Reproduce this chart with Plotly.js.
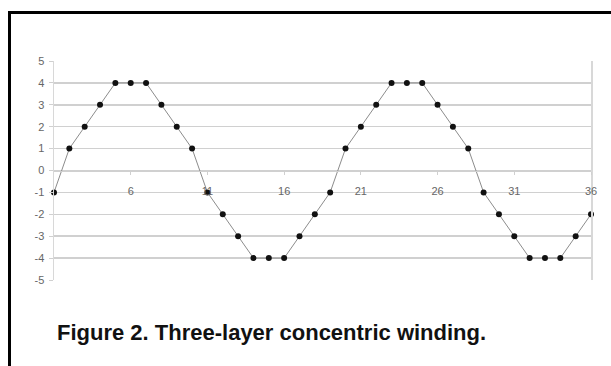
<!DOCTYPE html>
<html>
<head>
<meta charset="utf-8">
<script src="https://cdn.plot.ly/plotly-3.0.1.min.js"></script>
<style>
html,body{margin:0;padding:0;background:#fff;overflow:hidden;}
#wrap{position:relative;width:611px;height:366px;overflow:hidden;}
#chart{position:absolute;left:0;top:0;width:611px;height:366px;}
#frameTop{position:absolute;left:8px;top:11px;width:603px;height:3px;background:#000;pointer-events:none;}
#frameLeft{position:absolute;left:8px;top:11px;width:3px;height:355px;background:#000;pointer-events:none;}
</style>
</head>
<body>
<div id="wrap">
<div id="chart"></div>
<div id="frameTop"></div>
<div id="frameLeft"></div>
</div>
<script>
const positions = [1,2,3,4,5,6,7,8,9,10,11,12,13,14,15,16,17,18,19,20,21,22,23,24,25,26,27,28,29,30,31,32,33,34,35,36];
const values = [-1,1,2,3,4,4,4,3,2,1,-1,-2,-3,-4,-4,-4,-3,-2,-1,1,2,3,4,4,4,3,2,1,-1,-2,-3,-4,-4,-4,-3,-2];
const xTickVals = [6,11,16,21,26,31,36];
const yTickVals = [-5,-4,-3,-2,-1,0,1,2,3,4,5];
const caption = "Figure 2. Three-layer concentric winding.";

const trace = {
  x: positions, y: values, type: 'scatter', mode: 'lines+markers',
  line: {color: '#8c8c8c', width: 1},
  marker: {color: '#111', size: 6},
  cliponaxis: false, hoverinfo: 'skip'
};

const layout = {
  width: 611, height: 366,
  margin: {l: 54, r: 20, t: 61, b: 86},
  paper_bgcolor: '#fff', plot_bgcolor: '#fff',
  showlegend: false,
  font: {family: 'Liberation Sans, Arial, sans-serif', color: '#666', size: 11},
  xaxis: {
    range: [1, 36], anchor: 'free', position: 0.5,
    tickvals: xTickVals, ticktext: xTickVals.map(String),
    showgrid: false, zeroline: false,
    showline: true, linecolor: '#d0d0d0', linewidth: 1.5,
    ticks: 'outside', ticklen: 3, tickcolor: '#d0d0d0',
    ticklabelstandoff: 7,
    tickfont: {size: 11, color: '#666'}
  },
  yaxis: {
    range: [-5, 5],
    tickvals: yTickVals, ticktext: yTickVals.map(String),
    showgrid: true, gridcolor: '#d0d0d0', gridwidth: 1.5,
    zeroline: false,
    showline: true, mirror: true, linecolor: '#d8d8d8', linewidth: 1.5,
    ticks: 'outside', ticklen: 4, tickcolor: '#d0d0d0',
    ticklabelstandoff: 2,
    tickfont: {size: 11, color: '#666'}
  },
  annotations: [{
    text: '<b>' + caption + '</b>',
    xref: 'paper', yref: 'paper',
    x: (55 - 54) / 539, y: (280 - 332) / 219,
    xanchor: 'left', yanchor: 'middle', showarrow: false,
    font: {family: 'Liberation Sans, Arial, sans-serif', size: 22, color: '#111'}
  }]
};

Plotly.newPlot('chart', [trace], layout, {staticPlot: true, displayModeBar: false});
</script>
</body>
</html>
